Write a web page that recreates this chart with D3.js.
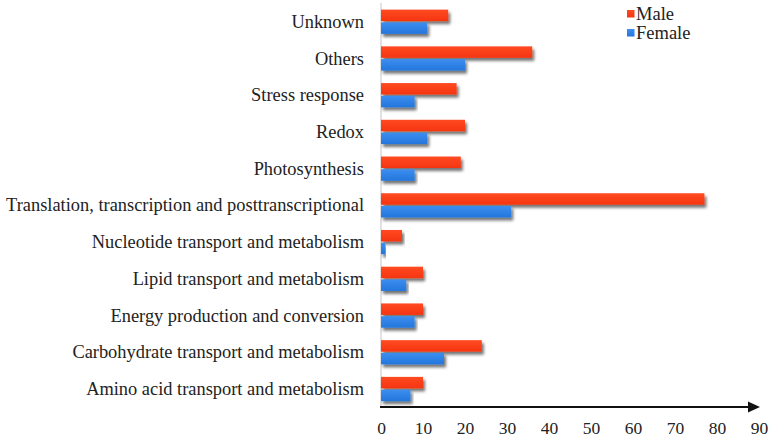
<!DOCTYPE html>
<html>
<head>
<meta charset="utf-8">
<script src="https://cdn.jsdelivr.net/npm/d3@7"></script>
<style>
html,body{margin:0;padding:0;background:#fff;}
svg{display:block;}
</style>
</head>
<body>
<svg id="chart" width="773" height="438"></svg>
<script>
const categories = [
  "Unknown",
  "Others",
  "Stress response",
  "Redox",
  "Photosynthesis",
  "Translation, transcription and posttranscriptional",
  "Nucleotide transport and metabolism",
  "Lipid transport and metabolism",
  "Energy production and conversion",
  "Carbohydrate transport and metabolism",
  "Amino acid transport and metabolism"
];
const seriesNames = ["Male", "Female"];
const maleValues   = [16, 36, 18, 20, 19, 77, 5, 10, 10, 24, 10];
const femaleValues = [11, 20, 8, 11, 8, 31, 1, 6, 8, 15, 7];
const xTicks = [0, 10, 20, 30, 40, 50, 60, 70, 80, 90];
const colors = { Male: "#f5350f", Female: "#2376dc" };
const colorsLight = { Male: "#ff4a22", Female: "#3d8ef0" };
const FONT = "'Liberation Serif', Tinos, 'Times New Roman', Times, 'DejaVu Serif', serif";

const svg = d3.select("#chart");
const defs = svg.append("defs");
const f = defs.append("filter").attr("id", "shadow")
  .attr("x", "-5%").attr("y", "-40%").attr("width", "115%").attr("height", "200%");
f.append("feDropShadow").attr("dx", 2).attr("dy", 3).attr("stdDeviation", 1.6)
  .attr("flood-color", "#000").attr("flood-opacity", 0.55);
seriesNames.forEach(s => {
  const g = defs.append("linearGradient").attr("id", "grad-" + s)
    .attr("x1", 0).attr("y1", 0).attr("x2", 0).attr("y2", 1);
  g.append("stop").attr("offset", "0%").attr("stop-color", colorsLight[s]);
  g.append("stop").attr("offset", "100%").attr("stop-color", colors[s]);
});

const x = d3.scaleLinear().domain([0, 90]).range([381, 759]);
const y = d3.scaleBand().domain(categories).range([3, 407]).padding(0);
const bw = y.bandwidth();
const ys = d3.scaleBand().domain(seriesNames).range([bw * 0.18, bw * 0.84]).paddingInner(0.1);

const data = categories.map((c, i) => ({ cat: c, Male: maleValues[i], Female: femaleValues[i] }));

// vertical axis line
svg.append("line").attr("x1", x(0)).attr("x2", x(0)).attr("y1", 3).attr("y2", 407)
  .attr("stroke", "#cfcfcf").attr("stroke-width", 1.2);

// bars
const groups = svg.append("g").selectAll("g").data(data).join("g")
  .attr("transform", d => `translate(0,${y(d.cat)})`);
groups.selectAll("rect").data(d => seriesNames.map(s => ({ s, v: d[s] }))).join("rect")
  .attr("x", x(0))
  .attr("y", d => ys(d.s))
  .attr("width", d => x(d.v) - x(0))
  .attr("height", ys.bandwidth())
  .attr("fill", d => `url(#grad-${d.s})`)
  .attr("filter", "url(#shadow)");

// category labels
svg.append("g").selectAll("text").data(categories).join("text")
  .attr("x", 364)
  .attr("y", d => y(d) + bw / 2)
  .attr("dy", "0.35em")
  .attr("text-anchor", "end")
  .attr("font-family", FONT)
  .attr("fill", "#222")
  .attr("font-size", 18.4)
  .text(d => d);

// x axis
const xAxis = d3.axisBottom(x).tickValues(xTicks).tickSize(0).tickPadding(15);
const ax = svg.append("g").attr("transform", "translate(0,407)").call(xAxis);
ax.attr("font-family", FONT);
ax.select(".domain").remove();
ax.selectAll("text").attr("font-size", 17.5).attr("fill", "#222")
  .attr("font-family", FONT);
svg.append("line").attr("x1", x(0) - 1).attr("x2", 750).attr("y1", 407).attr("y2", 407)
  .attr("stroke", "#111").attr("stroke-width", 2);
svg.append("path")
  .attr("d", `M${x(90) + 1},407 L748,401.5 L748,412.5 Z`)
  .attr("fill", "#111");

// legend
const leg = svg.append("g");
seriesNames.forEach((s, i) => {
  const yy = 20 + i * 19;
  leg.append("rect").attr("x", 627).attr("y", yy - 10).attr("width", 7.5).attr("height", 7.5)
    .attr("fill", `url(#grad-${s})`);
  leg.append("text").attr("x", 636).attr("y", yy).attr("font-size", 18.5)
    .attr("font-family", FONT).attr("fill", "#222").text(s);
});
</script>
</body>
</html>
